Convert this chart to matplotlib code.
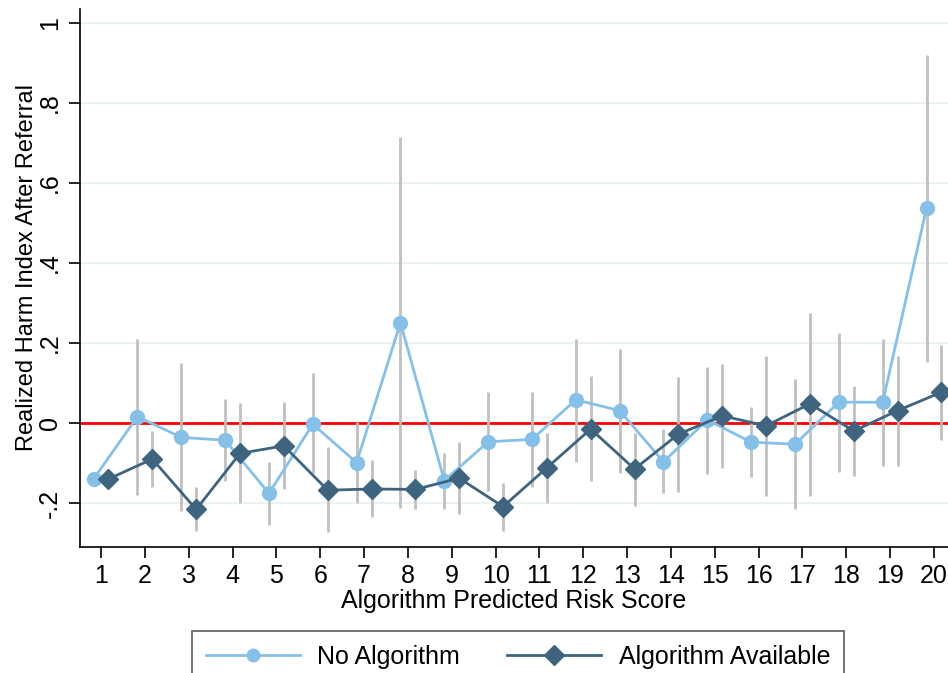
import numpy as np
import matplotlib
matplotlib.use("Agg")
import matplotlib.pyplot as plt
from matplotlib.lines import Line2D

plt.rcParams['font.family'] = ['Liberation Sans', 'DejaVu Sans']

scores = np.arange(1, 21)

# No Algorithm: point estimate and CI
no_algo = [-0.140, 0.016, -0.036, -0.043, -0.176, -0.003, -0.099, 0.251, -0.144, -0.047,
           -0.041, 0.058, 0.031, -0.097, 0.008, -0.048, -0.053, 0.052, 0.052, 0.537]
no_algo_lo = [-0.140, -0.180, -0.220, -0.145, -0.255, -0.126, -0.200, -0.213, -0.216, -0.169,
              -0.159, -0.097, -0.124, -0.176, -0.128, -0.136, -0.215, -0.123, -0.108, 0.153]
no_algo_hi = [-0.140, 0.210, 0.150, 0.060, -0.097, 0.126, 0.003, 0.716, -0.076, 0.077,
              0.078, 0.210, 0.184, -0.016, 0.139, 0.041, 0.111, 0.226, 0.210, 0.920]

# Algorithm Available: point estimate and CI
algo = [-0.140, -0.090, -0.216, -0.076, -0.057, -0.168, -0.165, -0.166, -0.138, -0.209,
        -0.112, -0.015, -0.115, -0.028, 0.018, -0.007, 0.048, -0.020, 0.031, 0.077]
algo_lo = [-0.140, -0.160, -0.270, -0.200, -0.165, -0.272, -0.236, -0.216, -0.228, -0.269,
           -0.199, -0.144, -0.207, -0.173, -0.112, -0.182, -0.182, -0.133, -0.107, -0.043]
algo_hi = [-0.140, -0.020, -0.160, 0.050, 0.053, -0.059, -0.093, -0.118, -0.048, -0.151,
           -0.024, 0.118, -0.026, 0.114, 0.148, 0.168, 0.276, 0.093, 0.168, 0.195]

light = '#85C0E9'
dark = '#3E6480'
ci_gray = '#C0C0C0'
off = 0.17

fig = plt.figure(figsize=(9.48, 6.73), dpi=100)
ax = fig.add_axes([80 / 948, 1 - 547 / 673, 1 - 80 / 948, (547 - 9) / 673])

yticks = [-0.2, 0, 0.2, 0.4, 0.6, 0.8, 1]
ylabels = ['-.2', '0', '.2', '.4', '.6', '.8', '1']
for yt in yticks:
    if yt != 0:
        ax.axhline(yt, color='#EAF2F3', lw=1.5, zorder=0)
ax.axhline(0, color='#FF0000', lw=2, zorder=1)

x1 = scores - off
x2 = scores + off
ax.vlines(x1, no_algo_lo, no_algo_hi, color=ci_gray, lw=2, zorder=2)
ax.vlines(x2, algo_lo, algo_hi, color=ci_gray, lw=2, zorder=2)
ax.plot(x1, no_algo, color=light, lw=2, marker='o', ms=10, zorder=3)
ax.plot(x2, algo, color=dark, lw=2, marker='D', ms=10, zorder=4)

ax.set_xlim(0.52, 20.32)
ax.set_ylim(-0.31, 1.035)
ax.set_xticks(scores)
ax.set_yticks(yticks)
ax.set_yticklabels(ylabels, rotation=90, va='center')
ax.tick_params(axis='both', labelsize=18, length=8, width=1.2, color='black')
ax.tick_params(axis='y', pad=5)
ax.tick_params(axis='x', pad=4)
for s in ['top', 'right']:
    ax.spines[s].set_visible(False)
for s in ['left', 'bottom']:
    ax.spines[s].set_linewidth(1.2)

ax.set_xlabel('Algorithm Predicted Risk Score', fontsize=18, labelpad=1)
ax.set_ylabel('Realized Harm Index After Referral', fontsize=17)
ax.yaxis.set_label_coords(-0.048, 0.52)

handles = [
    Line2D([], [], color=light, lw=2, marker='o', ms=9),
    Line2D([], [], color=dark, lw=2, marker='D', ms=10),
]
leg = fig.legend(handles, ['No Algorithm', 'Algorithm Available'], loc='upper center',
                 bbox_to_anchor=(518 / 948, 1 - 631 / 673), ncol=2, fontsize=18,
                 frameon=True, fancybox=False, edgecolor='#333333', handlelength=3.76,
                 columnspacing=1.9, borderpad=0.55, handletextpad=0.7, borderaxespad=0)
leg.get_frame().set_linewidth(1.2)

fig.savefig('out.png', dpi=100)
